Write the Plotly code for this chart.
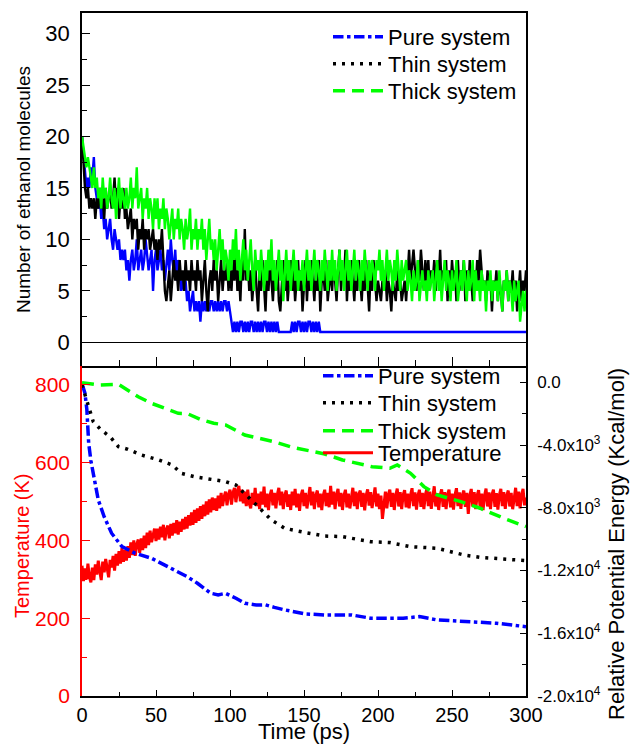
import plotly.graph_objects as go

# ---------------- top panel: number of ethanol molecules (1 ps sampling) ----------------
time_ps = list(range(0, 301))

pure_count = [
    20,18,17,15,16,15,17,16,18,15,
    14,13,14,12,13,11,12,10,11,12,
    10,9,11,10,9,10,8,9,8,9,
    7,8,6,8,9,7,8,10,7,8,
    9,7,8,10,8,7,8,9,5,8,
    9,7,8,9,7,8,6,8,9,7,
    10,8,7,9,6,8,7,5,6,5,
    6,4,5,3,4,5,3,4,3,4,
    2,4,3,4,3,4,3,4,4,3,
    4,3,4,3,4,3,4,4,3,4,
    3,2,1,2,1,2,1,2,2,1,
    2,1,2,1,2,2,1,2,1,2,
    1,2,1,2,2,1,2,1,2,1,
    2,1,2,1,1,1,1,1,1,1,
    1,1,2,1,2,1,2,2,1,2,
    1,2,1,2,2,1,2,1,2,1,
    2,1,1,1,1,1,1,1,1,1,
    1,1,1,1,1,1,1,1,1,1,
    1,1,1,1,1,1,1,1,1,1,
    1,1,1,1,1,1,1,1,1,1,
    1,1,1,1,1,1,1,1,1,1,
    1,1,1,1,1,1,1,1,1,1,
    1,1,1,1,1,1,1,1,1,1,
    1,1,1,1,1,1,1,1,1,1,
    1,1,1,1,1,1,1,1,1,1,
    1,1,1,1,1,1,1,1,1,1,
    1,1,1,1,1,1,1,1,1,1,
    1,1,1,1,1,1,1,1,1,1,
    1,1,1,1,1,1,1,1,1,1,
    1,1,1,1,1,1,1,1,1,1,
    1,
]

thin_count = [
    20,17,15,14,15,13,14,13,14,12,
    14,13,15,13,14,12,15,13,14,15,
    13,14,16,13,15,12,14,13,15,12,
    13,11,12,13,10,12,11,12,9,11,
    10,12,9,11,10,11,9,10,11,9,
    10,8,10,9,11,8,5,4,6,7,
    4,6,8,6,7,5,8,6,7,5,
    8,6,7,5,8,6,7,5,8,6,
    7,4,6,8,5,3,6,7,5,8,
    6,7,4,6,8,5,7,6,8,5,
    7,5,8,6,9,5,7,4,8,6,
    11,6,8,5,7,4,6,8,5,3,
    7,5,8,6,3,7,5,8,6,4,
    7,5,8,4,3,6,8,5,7,4,
    6,8,5,7,4,6,8,5,7,3,
    6,8,4,7,5,8,6,4,7,5,
    8,3,6,7,5,8,4,6,7,5,
    8,6,4,7,9,5,7,6,9,4,
    7,5,8,6,4,7,5,8,6,4,
    7,5,8,6,3,7,5,8,6,4,
    6,5,4,6,5,7,4,6,5,3,
    6,5,4,7,5,6,4,5,6,4,
    7,9,6,8,9,7,5,8,6,9,
    7,5,8,6,8,5,7,6,8,5,
    8,6,9,5,7,6,8,4,7,5,
    8,6,7,4,8,5,7,6,8,4,
    7,5,8,6,4,7,5,8,6,9,
    7,5,6,4,7,5,6,3,6,5,
    7,4,6,5,3,6,5,7,4,6,
    5,7,4,6,3,5,7,4,6,5,
    7,
]

thick_count = [
    20,19,18,17,18,17,16,15,17,15,
    16,14,15,13,16,14,15,13,14,16,
    14,13,15,12,14,16,13,15,14,13,
    15,13,14,16,13,15,14,17,13,14,
    15,12,14,13,15,12,14,13,11,14,
    12,14,11,13,12,14,11,13,12,10,
    12,13,10,12,11,13,10,12,11,9,
    12,10,11,13,9,11,10,12,9,11,
    10,12,9,11,8,10,12,9,10,8,
    10,7,9,11,8,10,7,9,8,6,
    9,7,10,8,11,7,9,6,8,10,
    7,9,6,8,10,7,5,9,7,8,
    6,9,7,5,8,6,9,7,10,6,
    8,5,7,9,6,8,4,7,9,6,
    8,5,7,9,6,8,5,7,6,8,
    5,7,9,6,8,5,7,9,6,8,
    7,5,8,6,9,7,5,8,6,9,
    6,8,5,7,9,6,8,5,7,9,
    6,8,5,7,9,6,8,7,5,8,
    6,9,7,5,8,6,8,7,5,8,
    7,9,6,8,5,7,9,6,8,7,
    5,8,6,9,7,5,8,6,7,8,
    5,7,6,4,7,5,6,8,4,6,
    7,5,6,4,7,5,6,7,4,6,
    8,5,7,4,6,8,5,7,6,4,
    7,5,6,8,4,6,7,5,8,6,
    4,7,5,6,8,4,7,5,6,4,
    7,5,6,3,6,5,7,4,6,5,
    6,4,7,5,3,6,5,7,4,6,
    5,3,6,4,5,6,2,4,5,3,
    5,
]

# ---------------- bottom panel: temperature (1 ps sampling) ----------------
temperature_K = [
    335,295,328,300,340,305,292,330,298,338,
    312,348,320,298,345,318,352,325,305,350,
    330,360,322,365,335,372,340,380,345,375,
    348,385,355,395,362,400,360,390,402,368,
    405,375,412,380,420,388,425,395,410,430,
    398,430,402,435,408,440,400,428,438,405,
    442,412,445,418,452,415,448,422,455,428,
    460,430,465,438,472,440,478,445,482,450,
    488,455,492,462,500,466,505,472,510,478,
    508,476,515,482,522,488,512,525,490,518,
    530,492,522,535,498,528,540,500,530,495,
    525,488,530,495,482,522,492,535,488,520,
    480,525,492,538,485,520,478,515,530,490,
    522,482,518,535,490,525,480,515,528,486,
    518,478,525,490,532,485,520,476,515,530,
    488,522,482,518,537,490,525,480,515,528,
    485,520,478,515,530,488,522,485,540,492,
    525,480,518,532,487,522,478,515,530,485,
    520,482,516,535,488,525,480,518,528,486,
    522,477,515,531,489,524,483,518,536,487,
    520,480,515,455,488,525,482,518,530,486,
    522,478,515,533,487,524,480,517,529,485,
    520,482,516,534,488,523,479,515,530,486,
    522,480,517,532,488,525,481,516,539,487,
    521,478,515,531,486,524,480,518,530,485,
    520,479,516,534,488,523,481,517,528,486,
    522,468,515,532,487,524,480,516,529,485,
    520,478,515,533,487,523,480,517,530,486,
    521,479,516,532,488,524,481,515,528,487,
    522,480,516,535,488,525,482,517,532,490,
    510,
]

# ---------------- bottom panel: relative potential energy ----------------
pure_t = [0, 2, 3.3, 4.5, 6, 8, 11, 15, 20, 27, 36, 47, 58, 71, 78, 87, 92, 97,
          104, 110, 118, 124, 130, 137, 151, 164, 182, 195, 217, 228, 240, 262, 280, 300]
pure_E = [-100, -690, -1760, -3870, -5000, -6020, -7500, -8570, -9620, -10480, -10900,
          -11220, -11750, -12390, -12810, -13450, -13550, -13450, -13770, -14090, -14200,
          -14190, -14350, -14510, -14770, -14830, -14830, -15040, -15040, -14940, -15150,
          -15260, -15360, -15580]

thin_t = [0, 2, 5.4, 7.6, 13, 19, 24.6, 31, 40, 52, 61, 67, 76, 87, 97, 104, 110, 119,
          128, 137, 151, 164, 176, 195, 208, 222, 240, 258, 269, 285, 300]
thin_E = [-170, -810, -1760, -2510, -3040, -3470, -4100, -4270, -4630, -4950, -5270,
          -5800, -6020, -6180, -6330, -6550, -7080, -7930, -8780, -9310, -9580, -9800,
          -9840, -10160, -10220, -10480, -10580, -11010, -11160, -11290, -11370]

thick_t = [0, 11, 24.6, 31, 38, 47, 58, 65, 71, 80, 89, 97, 110, 121, 130, 142, 153,
           164, 176, 187, 196, 208, 213, 222, 231, 240, 256, 269, 285, 300]
thick_E = [-20, -170, -130, -490, -920, -1340, -1760, -1980, -1990, -2360, -2610, -2720,
           -3360, -3570, -3790, -4140, -4360, -4570, -4950, -5210, -5380, -5480, -5270,
           -5800, -6650, -7180, -7610, -8030, -8670, -9200]

series_names = ["Pure system", "Thin system", "Thick system", "Temperature"]
x_ticks = [0, 50, 100, 150, 200, 250, 300]
energy_tickvals = [0, -4000, -8000, -12000, -16000, -20000]
energy_ticktext = ["0.0", "-4.0x10<sup>3</sup>", "-8.0x10<sup>3</sup>",
                   "-1.2x10<sup>4</sup>", "-1.6x10<sup>4</sup>", "-2.0x10<sup>4</sup>"]

BLUE, BLACK, GREEN, RED = "#0000FF", "#000000", "#00FF00", "#FF0000"
FONT = "Liberation Sans, Arial, sans-serif"
DOT = "3px,6px"
DASH = "12px,7px"

# pixel helpers for layout placement (plot area: x 82..526, y 13..696)
PL, PW, PB, PH = 82, 444, 696, 683
def px_x(x): return (x - PL) / PW
def px_y(y): return (PB - y) / PH

fig = go.Figure()

# top panel noisy traces
for name, yv, col in [(series_names[0], pure_count, BLUE),
                      (series_names[1], thin_count, BLACK),
                      (series_names[2], thick_count, GREEN)]:
    fig.add_trace(go.Scatter(x=time_ps, y=yv, mode="lines", name=name,
                             line=dict(color=col, width=2.4),
                             xaxis="x", yaxis="y", showlegend=False, hoverinfo="skip"))

# top legend entries (style as in the reference legend)
for name, col, dash, lg in [(series_names[0], BLUE, "dashdot", "legend"),
                            (series_names[1], BLACK, DOT, "legend2"),
                            (series_names[2], GREEN, DASH, "legend3")]:
    fig.add_trace(go.Scatter(x=[None], y=[None], mode="lines", name=name,
                             line=dict(color=col, width=3.5, dash=dash),
                             xaxis="x", yaxis="y", legend=lg, showlegend=True))

# bottom panel
fig.add_trace(go.Scatter(x=time_ps, y=temperature_K, mode="lines", name=series_names[3],
                         line=dict(color=RED, width=3), xaxis="x2", yaxis="y2",
                         legend="legend7"))
fig.add_trace(go.Scatter(x=pure_t, y=pure_E, mode="lines", name=series_names[0],
                         line=dict(color=BLUE, width=3.5, dash="dashdot"),
                         xaxis="x2", yaxis="y3", legend="legend4"))
fig.add_trace(go.Scatter(x=thin_t, y=thin_E, mode="lines", name=series_names[1],
                         line=dict(color=BLACK, width=3.5, dash=DOT),
                         xaxis="x2", yaxis="y3", legend="legend5"))
fig.add_trace(go.Scatter(x=thick_t, y=thick_E, mode="lines", name=series_names[2],
                         line=dict(color=GREEN, width=3.5, dash=DASH),
                         xaxis="x2", yaxis="y3", legend="legend6"))

SPLIT = px_y(366)

def leg(xpx_text, ypx):
    return dict(x=px_x(xpx_text - 62), y=px_y(ypx), xanchor="left", yanchor="middle",
                bgcolor="rgba(0,0,0,0)", font=dict(size=22), itemwidth=50)

fig.update_layout(
    width=630, height=744,
    margin=dict(l=PL, r=630 - PL - PW, t=13, b=744 - PB),
    paper_bgcolor="white", plot_bgcolor="white",
    font=dict(family=FONT, color="black"),
    showlegend=True,
    legend=leg(390, 37), legend2=leg(390, 64), legend3=leg(390, 91),
    legend4=leg(380, 376), legend5=leg(380, 403), legend6=leg(380, 431),
    legend7=leg(380, 453),
    xaxis=dict(domain=[0, 1], anchor="y", range=[0, 300], showline=True, linecolor="black",
               linewidth=1.5, mirror=True, ticks="inside", ticklen=9, tickcolor="black",
               tickvals=x_ticks, showticklabels=False, showgrid=False, zeroline=False,
               minor=dict(dtick=25, tick0=0, ticks="inside", ticklen=6, tickcolor="black"),
               automargin=False),
    yaxis=dict(domain=[SPLIT, 1], anchor="x", range=[-2.3, 32], showline=True,
               linecolor="black", linewidth=1.5, mirror=True, ticks="inside", ticklen=8,
               tickcolor="black", tick0=0, dtick=5, showgrid=False,
               zeroline=True, zerolinecolor="black", zerolinewidth=1.2,
               tickfont=dict(size=22), ticklabelstandoff=6,
               minor=dict(dtick=2.5, tick0=0, ticks="inside", ticklen=5, tickcolor="black"),
               title=dict(text="Number of ethanol molecules", font=dict(size=19), standoff=10),
               automargin=False),
    xaxis2=dict(domain=[0, 1], anchor="y2", range=[0, 300], showline=True,
                linecolor="black", linewidth=1.5, mirror=False, ticks="inside", ticklen=6,
                tickcolor="black", tickvals=x_ticks, showgrid=False, zeroline=False,
                tickfont=dict(size=20), ticklabelstandoff=0,
                minor=dict(dtick=25, tick0=0, ticks="inside", ticklen=4, tickcolor="black"),
                title=dict(text="Time (ps)", font=dict(size=22), standoff=4),
                automargin=False),
    yaxis2=dict(domain=[0, SPLIT], anchor="x2", range=[0, 848], showline=True,
                linecolor=RED, linewidth=1.5, mirror=False, ticks="inside", ticklen=8,
                tickcolor=RED, tick0=0, dtick=200, showgrid=False, zeroline=False,
                tickfont=dict(size=21, color=RED), ticklabelstandoff=6,
                minor=dict(dtick=100, tick0=0, ticks="inside", ticklen=5, tickcolor=RED),
                automargin=False),
    yaxis3=dict(overlaying="y2", anchor="x2", side="right", range=[-20000, 1040],
                showline=True, linecolor="black", linewidth=1.5, ticks="inside", ticklen=6,
                tickcolor="black", tickvals=energy_tickvals, ticktext=energy_ticktext,
                showgrid=False, zeroline=False, tickfont=dict(size=17), ticklabelstandoff=6,
                minor=dict(tickvals=[-2000, -6000, -10000, -14000, -18000], ticks="inside",
                           ticklen=4, tickcolor="black"),
                automargin=False),
    annotations=[
        dict(text="Temperature (K)", xref="paper", yref="paper", x=px_x(22), y=px_y(546),
             xanchor="center", yanchor="middle", textangle=-90, showarrow=False,
             font=dict(size=20, color=RED, family=FONT)),
        dict(text="Relative Potential Energy (Kcal/mol)", xref="paper", yref="paper",
             x=px_x(616), y=px_y(544), xanchor="center", yanchor="middle", textangle=-90,
             showarrow=False, font=dict(size=22, color="black", family=FONT)),
    ],
)

fig.write_html("out.html")
